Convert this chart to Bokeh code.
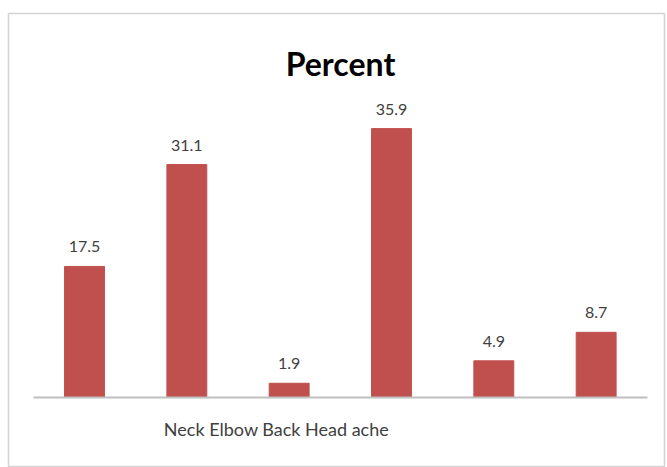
from bokeh.plotting import figure
from bokeh.models import ColumnDataSource, Range1d, Label, FixedTicker, LinearAxis
from bokeh.embed import file_html
from bokeh.resources import INLINE

# Data
values = [17.5, 31.1, 1.9, 35.9, 4.9, 8.7]
value_labels = ["17.5", "31.1", "1.9", "35.9", "4.9", "8.7"]
positions = [0, 1, 2, 3, 4, 5]
category_text = "Neck Elbow Back Head ache"
title_text = "Percent"

FONT = "Lato"

# layout (pixels)
FRAME_L, FRAME_R, FRAME_T, FRAME_B = 8, 664, 13, 466
AXIS_Y = 397
STEP = 102.33     # px per category
PX_PER_UNIT = 7.49
FIRST_CENTER = 84

x0 = -(FIRST_CENTER - FRAME_L) / STEP
x1 = x0 + (FRAME_R - FRAME_L) / STEP
y0 = -(FRAME_B - AXIS_Y) / PX_PER_UNIT
y1 = (AXIS_Y - FRAME_T) / PX_PER_UNIT

def px_to_x(px):
    return x0 + (px - FRAME_L) / STEP

def px_to_y(py):
    return (AXIS_Y - py) / PX_PER_UNIT

src = ColumnDataSource(dict(x=positions, top=values, lbl=value_labels))

p = figure(width=667, height=467, output_backend="svg", toolbar_location=None,
           x_range=Range1d(x0, x1), y_range=Range1d(y0, y1),
           min_border_left=FRAME_L, min_border_right=667 - FRAME_R,
           min_border_top=FRAME_T, min_border_bottom=467 - FRAME_B,
           x_axis_location=None, y_axis_location=None)

p.xgrid.visible = False
p.ygrid.visible = False
p.outline_line_color = "#D4D4D4"
p.outline_line_width = 1.5

# baseline axis
xa = LinearAxis(fixed_location=0, bounds=(-0.5, 5.5), ticker=FixedTicker(ticks=[]),
                major_tick_line_color=None, minor_tick_line_color=None,
                major_label_text_font_size="0px", axis_line_color="#BFBFBF",
                axis_line_width=2, major_label_standoff=0)
p.add_layout(xa, "below")

p.vbar(x="x", top="top", bottom=0, width=0.39, source=src,
       fill_color="#C0504D", line_color="#C0504D")

p.text(x="x", y="top", text="lbl", source=src, text_align="center",
       text_baseline="bottom", y_offset=-14, text_font_size="16px",
       text_color="#404040", text_font={"value": FONT})

p.add_layout(Label(x=px_to_x(340), y=px_to_y(63), text=title_text,
                   text_align="center", text_baseline="alphabetic",
                   text_font=FONT, text_font_size="32px", text_font_style="bold",
                   text_color="#000000"))

p.add_layout(Label(x=px_to_x(276), y=px_to_y(428), text=category_text,
                   text_align="center", text_baseline="middle",
                   text_font=FONT, text_font_size="18px", text_color="#404040"))

open("out.html", "w").write(file_html(p, INLINE))
